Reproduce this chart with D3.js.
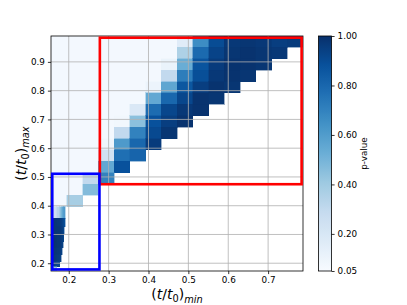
<!DOCTYPE html>
<html><head><meta charset="utf-8">
<script src="https://cdn.jsdelivr.net/npm/d3@7"></script>
<style>body{margin:0;background:#fff}svg{display:block}text{font-family:"DejaVu Sans",sans-serif;fill:#000}</style>
</head><body>
<svg id="c" width="407" height="305"></svg>
<script>
// coarse grid edges (t/t0)min and (t/t0)max (top to bottom)
const xEdges = [0.1555,0.195,0.2345,0.274,0.3135,0.353,0.3925,0.432,0.4715,0.511,0.5505,0.59,0.6295,0.669,0.7085,0.748,0.7875];
const yEdges = [0.99,0.9504,0.9108,0.8712,0.8316,0.792,0.7524,0.7128,0.6732,0.6336,0.594,0.5544,0.5148,0.4752,0.4356,0.396];
// p-values, rows top->bottom, cols left->right (null = not computed)
const pValues = [
 [0.07,0.07,0.07,0.07,0.07,0.07,0.07,0.07,0.16,0.66,0.90,0.97,0.98,0.97,0.95,0.96],
 [0.07,0.07,0.07,0.07,0.07,0.07,0.07,0.07,0.36,0.79,0.93,0.98,0.99,0.98,0.97,null],
 [0.07,0.07,0.07,0.07,0.07,0.07,0.07,0.11,0.53,0.87,0.96,0.99,0.99,0.98,null,null],
 [0.07,0.07,0.07,0.07,0.07,0.07,0.07,0.30,0.72,0.89,0.97,0.99,0.98,null,null,null],
 [0.07,0.07,0.07,0.07,0.07,0.07,0.10,0.56,0.86,0.95,0.99,0.98,null,null,null,null],
 [0.07,0.07,0.07,0.07,0.07,0.07,0.55,0.80,0.92,0.99,0.98,null,null,null,null,null],
 [0.07,0.07,0.07,0.07,0.07,0.19,0.78,0.92,0.97,0.99,null,null,null,null,null,null],
 [0.07,0.07,0.07,0.07,0.08,0.45,0.88,0.95,0.99,null,null,null,null,null,null,null],
 [0.07,0.07,0.07,0.07,0.30,0.70,0.91,0.98,null,null,null,null,null,null,null,null],
 [0.07,0.07,0.07,0.09,0.61,0.80,0.96,null,null,null,null,null,null,null,null,null],
 [0.07,0.07,0.07,0.24,0.77,0.81,null,null,null,null,null,null,null,null,null,null],
 [0.07,0.07,0.07,0.55,0.88,null,null,null,null,null,null,null,null,null,null,null],
 [0.07,0.07,0.30,0.70,null,null,null,null,null,null,null,null,null,null,null,null],
 [0.07,0.07,0.47,null,null,null,null,null,null,null,null,null,null,null,null,null],
 [0.07,0.38,null,null,null,null,null,null,null,null,null,null,null,null,null,null]
];
// fine grid (early times)
const fineXEdges = [0.1555,0.1625,0.170,0.1775,0.181,0.184,0.186,0.1875,0.189,0.191,0.195];
const fineYEdges = [0.396,0.3562,0.326,0.302,0.274,0.253,0.229,0.2045,0.187,0.173];
const fineValues = [
 [0.10,0.25,0.33,0.45,0.50,0.55,0.58,0.60,0.60,null],
 [0.98,0.98,0.97,0.96,0.95,0.93,0.92,0.90,0.88,null],
 [0.99,0.98,0.98,0.97,0.96,0.95,0.93,0.91,null,null],
 [0.99,0.99,0.98,0.97,0.96,0.95,0.93,null,null,null],
 [0.99,0.99,0.98,0.97,0.96,0.94,null,null,null,null],
 [0.99,0.98,0.97,0.96,0.94,null,null,null,null,null],
 [0.98,0.97,0.96,0.94,null,null,null,null,null,null],
 [0.96,0.94,0.92,null,null,null,null,null,null,null],
 [0.45,0.40,null,null,null,null,null,null,null,null]
];
const xTicks = [0.2,0.3,0.4,0.5,0.6,0.7];
const yTicks = [0.2,0.3,0.4,0.5,0.6,0.7,0.8,0.9];
const cbTicks = [0.05,0.2,0.4,0.6,0.8,1.0];
const pRange = [0.05,1.0];
const redBox = [0.278,0.4747,0.784,0.984];   // xmin,ymin,xmax,ymax
const blueBox = [0.1587,0.1785,0.277,0.511];
const bluesColors = ["#f7fbff","#deebf7","#c6dbef","#9ecae1","#6baed6","#4292c6","#2171b5","#08519c","#08306b"];

const svg = d3.select("#c");
const L=51, R=303, T=36, B=271;
const x = d3.scaleLinear().domain([0.1555,0.7875]).range([L,R]);
const y = d3.scaleLinear().domain([0.173,0.99]).range([B,T]);
const color = d3.scaleLinear()
  .domain(bluesColors.map((c,i)=>pRange[0]+(pRange[1]-pRange[0])*i/8))
  .range(bluesColors).clamp(true);

svg.append("defs").append("clipPath").attr("id","pc")
  .append("rect").attr("x",L).attr("y",T).attr("width",R-L).attr("height",B-T);

const cells = svg.append("g").attr("clip-path","url(#pc)").attr("shape-rendering","crispEdges");
function drawMesh(xe, ye, vals){
  vals.forEach((row,i)=>row.forEach((v,j)=>{
    if(v===null) return;
    const x0=x(xe[j]), x1=x(xe[j+1]), y0=y(ye[i]), y1=y(ye[i+1]);
    cells.append("rect").attr("x",x0).attr("y",y0)
      .attr("width",x1-x0).attr("height",y1-y0)
      .attr("fill",color(v)).attr("stroke",color(v)).attr("stroke-width",0.4);
  }));
}
drawMesh(xEdges,yEdges,pValues);
drawMesh(fineXEdges,fineYEdges,fineValues);

// grid
const grid = svg.append("g").attr("stroke","#b0b0b0").attr("stroke-width",0.8);
xTicks.forEach(t=>grid.append("line").attr("x1",x(t)).attr("x2",x(t)).attr("y1",T).attr("y2",B));
yTicks.forEach(t=>grid.append("line").attr("y1",y(t)).attr("y2",y(t)).attr("x1",L).attr("x2",R));

// spines
svg.append("rect").attr("x",L).attr("y",T).attr("width",R-L).attr("height",B-T)
  .attr("fill","none").attr("stroke","#000").attr("stroke-width",0.8);

// axes
const ax = svg.append("g").attr("transform",`translate(0,${B})`)
  .call(d3.axisBottom(x).tickValues(xTicks).tickFormat(d3.format(".1f")).tickSize(3.1).tickPadding(3));
const ay = svg.append("g").attr("transform",`translate(${L},0)`)
  .call(d3.axisLeft(y).tickValues(yTicks).tickFormat(d3.format(".1f")).tickSize(3.1).tickPadding(3));
[ax,ay].forEach(a=>{a.select(".domain").remove();
  a.selectAll("text").style("font-family","DejaVu Sans").style("font-size","8.8px").attr("fill","#000");
  a.selectAll("line").attr("stroke","#000").attr("stroke-width",0.8);});

// boxes
function box(b,col){
  svg.append("rect").attr("x",x(b[0])).attr("y",y(b[3]))
    .attr("width",x(b[2])-x(b[0])).attr("height",y(b[1])-y(b[3]))
    .attr("fill","none").attr("stroke",col).attr("stroke-width",2.6);
}
box(redBox,"#ff0000");
box(blueBox,"#0000ff");

// axis labels (math style)
function mathLabel(g, sub){
  const t = g.append("text").style("font-size","14px");
  t.append("tspan").text("(");
  t.append("tspan").style("font-style","italic").text("t");
  t.append("tspan").text("/");
  t.append("tspan").style("font-style","italic").text("t");
  t.append("tspan").attr("dy",3).style("font-size","9.8px").text("0");
  t.append("tspan").attr("dy",-3).text(")");
  t.append("tspan").attr("dy",3.5).style("font-size","9.8px").style("font-style","italic").text(sub);
  return t;
}
mathLabel(svg.append("g").attr("transform",`translate(${(L+R)/2},299)`),"min").attr("text-anchor","middle");
mathLabel(svg.append("g").attr("transform",`translate(25.5,${(T+B)/2}) rotate(-90)`),"max").attr("text-anchor","middle");

// colorbar
const cbX=318.5, cbW=13;
const cy = d3.scaleLinear().domain(pRange).range([B,T]);
const grad = svg.select("defs").append("linearGradient").attr("id","cbg")
  .attr("x1",0).attr("y1",1).attr("x2",0).attr("y2",0);
d3.range(0,1.0001,0.02).forEach(f=>grad.append("stop").attr("offset",f)
  .attr("stop-color",color(pRange[0]+f*(pRange[1]-pRange[0]))));
svg.append("rect").attr("x",cbX).attr("y",T).attr("width",cbW).attr("height",B-T)
  .attr("fill","url(#cbg)").attr("stroke","#000").attr("stroke-width",0.8);
const cax = svg.append("g").attr("transform",`translate(${cbX+cbW},0)`)
  .call(d3.axisRight(cy).tickValues(cbTicks).tickFormat(d3.format(".2f")).tickSize(3.1).tickPadding(3));
cax.select(".domain").remove();
cax.selectAll("text").style("font-family","DejaVu Sans").style("font-size","8.8px").attr("fill","#000");
cax.selectAll("line").attr("stroke","#000").attr("stroke-width",0.8);
svg.append("text").attr("transform",`translate(366.5,${(T+B)/2}) rotate(-90)`)
  .attr("text-anchor","middle").style("font-size","8.8px").text("p-value");
</script>
</body></html>
